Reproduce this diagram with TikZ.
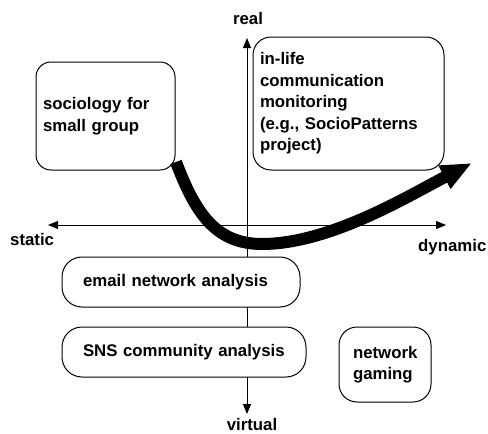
\documentclass[tikz,border=0pt]{standalone}
\usepackage{fontspec}
\setmainfont{Liberation Sans}
\usetikzlibrary{arrows.meta}
\tikzset{
  box/.style={draw, line width=1pt, fill=white, rectangle, align=left, inner ysep=0pt,
    font=\fontsize{16.8}{21.5}\selectfont\bfseries},
  axis/.style={line width=1pt, -{Triangle[length=10pt,width=8pt]}},
  lbl/.style={inner sep=0pt, font=\fontsize{16.8}{21.5}\selectfont\bfseries},
  bigarrow/.style={line width=12pt, -{Triangle[length=31pt,width=24pt]}}
}
\begin{document}
\begin{tikzpicture}[x=1pt,y=-1pt]
\useasboundingbox (0,0) rectangle (488,434);
% axes
\coordinate (O) at (247,225);
\coordinate (top) at (247,38);
\coordinate (bot) at (247,414);
\coordinate (left) at (48,225);
\coordinate (right) at (446,225);
\draw[axis] (O) -- (top);
\draw[axis] (O) -- (bot);
\draw[axis] (O) -- (left);
\draw[axis] (O) -- (right);
% axis labels
\node[lbl, anchor=base] (real) at (248,24) {real};
\node[lbl, anchor=base west] (static) at (10,245) {static};
\node[lbl, anchor=base west] (dynamic) at (418,251) {dynamic};
\node[lbl, anchor=base] (virtual) at (252,430.5) {virtual};
% boxes
\node[box, rounded corners=15pt, inner xsep=7pt, text width=125pt, minimum height=108pt]
  (soc) at (105.5,116) {sociology for\\small group};
\node[box, rounded corners=18pt, inner xsep=7pt, text width=177pt, minimum height=133pt]
  (life) at (348.5,103.5) {in-life\\communication\\monitoring\\(e.g., SocioPatterns\\project)};
\node[box, rounded corners=20pt, inner xsep=21pt, text width=196pt, minimum height=50pt]
  (email) at (181,282) {email network analysis};
\node[box, rounded corners=20pt, inner xsep=21pt, text width=202pt, minimum height=50pt]
  (sns) at (184,352) {SNS community analysis};
\node[box, rounded corners=18pt, inner xsep=14pt, text width=64pt, minimum height=75pt]
  (game) at (385,364.5) {network\\gaming};
% thick curved arrow
\coordinate (cs) at (176,162);
\coordinate (cm) at (262,244);
\coordinate (ce) at (472,163);
\draw[bigarrow] (cs) .. controls (195,212) and (215,244) .. (cm)
  .. controls (330,244) and (410,195) .. (ce);
\end{tikzpicture}
\end{document}
